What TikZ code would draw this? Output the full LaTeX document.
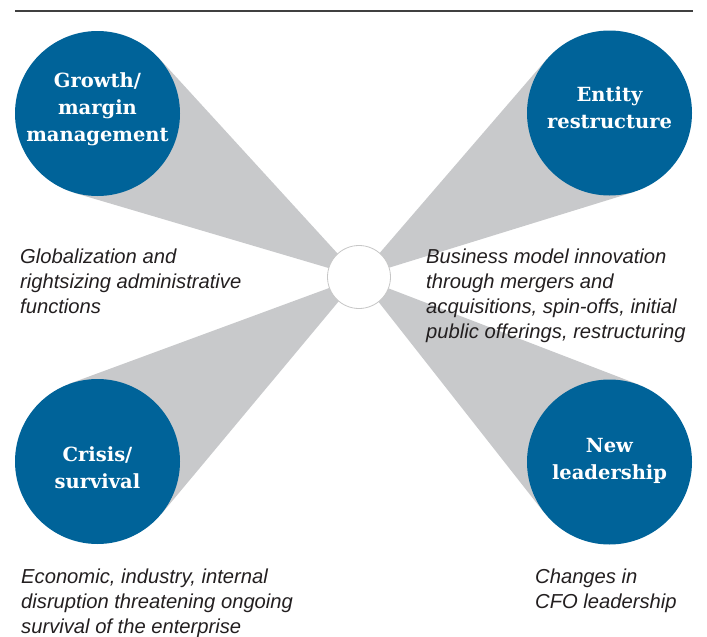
\documentclass[tikz,border=0pt]{standalone}
\usepackage{fontspec}
\setmainfont{Liberation Sans}
\newfontfamily\slabfont{DejaVu Serif}
\usepackage{tikz}
\usetikzlibrary{calc,backgrounds}
\usepackage{xcolor}
\definecolor{drvblue}{RGB}{0,99,153}
\definecolor{drvgray}{RGB}{200,201,203}
\definecolor{drvtext}{RGB}{35,31,32}
\tikzset{
  drvnode/.style={circle, fill=drvblue, minimum size=165pt, inner sep=0pt},
  drvlabel/.style={align=center, inner sep=0pt, text=white, font=\slabfont\bfseries\fontsize{19.5}{27}\selectfont},
  drvhub/.style={circle, draw=black!22, fill=white, line width=0.8pt, minimum size=63pt, inner sep=0pt},
  drvbeam/.style={fill=drvgray},
  drvnote/.style={anchor=base west, align=left, inner sep=0pt, text=drvtext, font=\itshape\fontsize{20.2}{25}\selectfont},
  drvrule/.style={draw=black!75, line width=1.6pt},
}

\begin{document}
\begin{tikzpicture}[x=1pt, y=-1pt]
  \useasboundingbox (0,0) rectangle (707,637);

  \coordinate (rulel) at (15,11);
  \coordinate (ruler) at (693,11);
  \draw[drvrule] (rulel) -- (ruler);

  \node[drvhub] (hub) at (359,277) {};
  \node[drvnode] (growth) at (97.5,113.5) {};
  \node[drvnode] (entity) at (609.5,113) {};
  \node[drvnode] (crisis) at (97.5,461.5) {};
  \node[drvnode] (leader) at (609.5,462) {};

  \node[drvlabel] (growthtext) at (97.5,109.5) {Growth/\\margin\\management};
  \node[drvlabel] (entitytext) at (609.5,107.5) {Entity\\restructure};
  \node[drvlabel] (crisistext) at (97.5,467.5) {Crisis/\\survival};
  \node[drvlabel] (leadertext) at (609.5,460.5) {New\\leadership};

  % light beams from the hub out to each circle
  \begin{scope}[on background layer]
    \fill[drvbeam] (hub.center) -- (tangent cs:node=growth,point={(hub.center)},solution=1) -- (tangent cs:node=growth,point={(hub.center)},solution=2) -- cycle;
    \fill[drvbeam] (hub.center) -- (tangent cs:node=entity,point={(hub.center)},solution=1) -- (tangent cs:node=entity,point={(hub.center)},solution=2) -- cycle;
    \fill[drvbeam] (hub.center) -- (tangent cs:node=crisis,point={(hub.center)},solution=1) -- (tangent cs:node=crisis,point={(hub.center)},solution=2) -- cycle;
    \fill[drvbeam] (hub.center) -- (tangent cs:node=leader,point={(hub.center)},solution=1) -- (tangent cs:node=leader,point={(hub.center)},solution=2) -- cycle;
  \end{scope}

  % notes under each circle, placed on the baseline of their last line
  \node[drvnote] (growthnote) at (20,313) {Globalization and\\rightsizing administrative\\functions};
  \node[drvnote] (entitynote) at (426,338) {Business model innovation\\through mergers and\\acquisitions, spin-offs, initial\\public offerings, restructuring};
  \node[drvnote] (crisisnote) at (21,633) {Economic, industry, internal\\disruption threatening ongoing\\survival of the enterprise};
  \node[drvnote] (leadernote) at (535,608) {Changes in\\CFO leadership};
\end{tikzpicture}
\end{document}
